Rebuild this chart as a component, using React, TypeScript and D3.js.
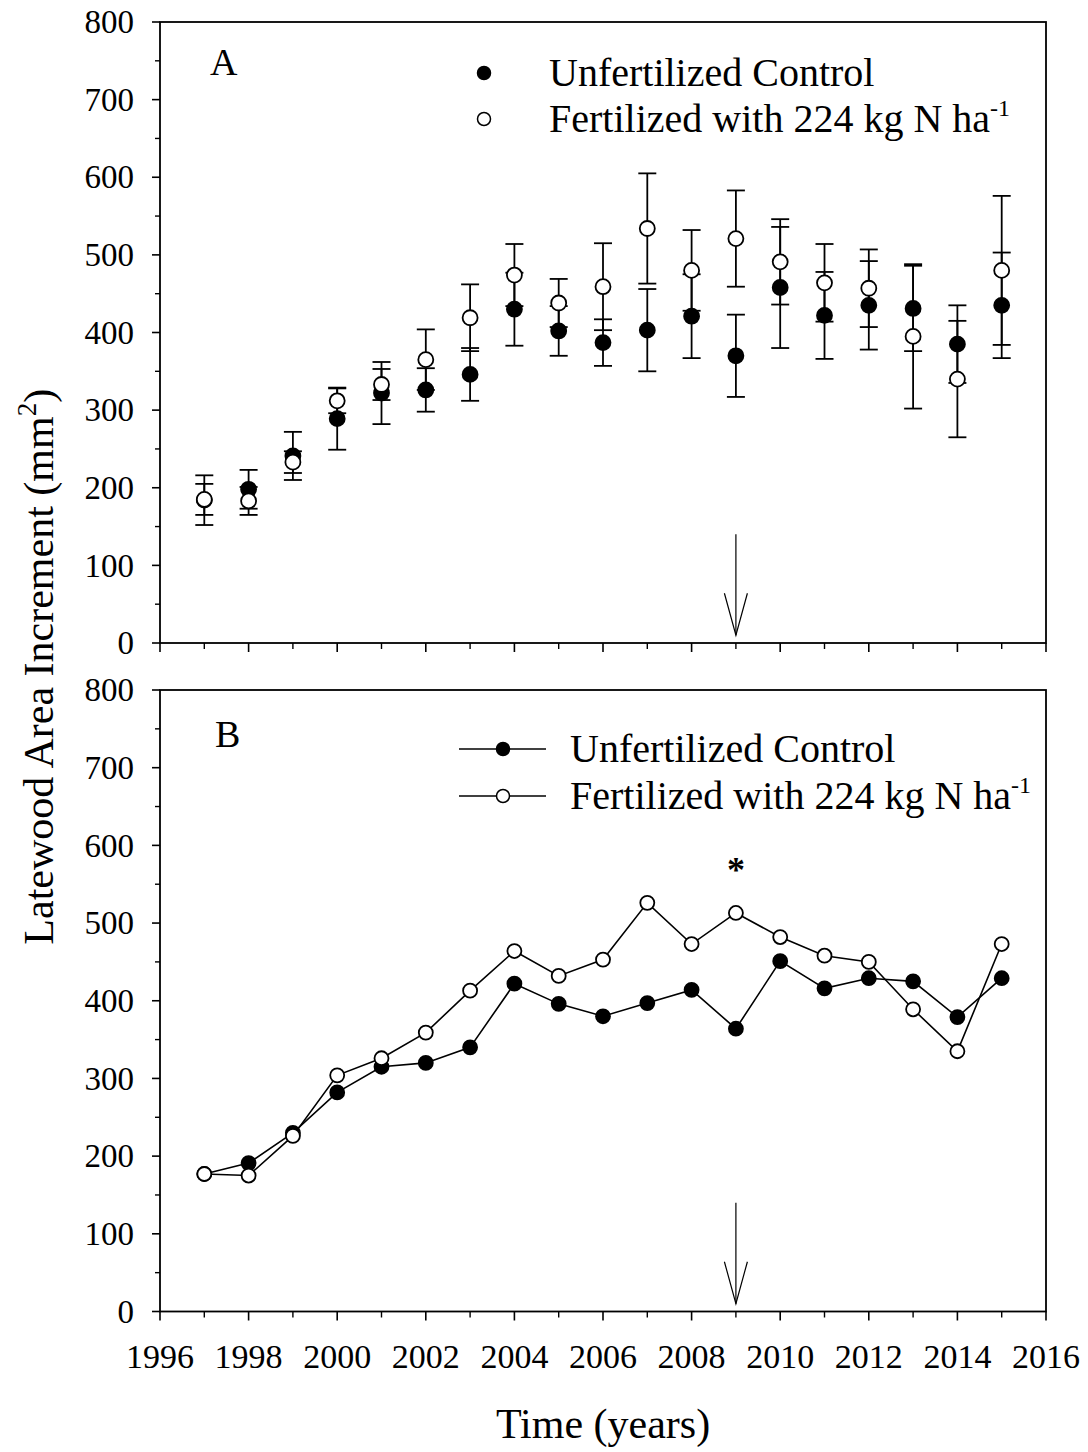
import React from "react";
import * as d3 from "d3";

const width = 1088;
const height = 1452;
const plotLeft = 160;
const plotRight = 1046;
const panelA = { top: 22, bottom: 643 };
const panelB = { top: 690, bottom: 1311.5 };
const font = "'Liberation Serif', 'Times New Roman', serif";

// data
const years = [1997, 1998, 1999, 2000, 2001, 2002, 2003, 2004, 2005, 2006, 2007, 2008, 2009, 2010, 2011, 2012, 2013, 2014, 2015];

// panel A: means with error bars
const controlMeanA = [184, 198, 241, 289, 322, 326, 346, 430, 402, 387, 403, 421, 370, 458, 422, 435, 431, 385, 435];
const controlErrA = [32, 25, 31, 40, 40, 28, 34, 47, 32, 30, 53, 54, 53, 78, 56, 57, 55, 50, 68];
const fertMeanA = [185, 183, 233, 312, 333, 365, 419, 474, 438, 459, 534, 480, 521, 491, 464, 457, 395, 340, 480];
const fertErrA = [20, 18, 14, 16, 20, 39, 43, 40, 31, 56, 71, 52, 62, 55, 50, 50, 93, 75, 96];

// panel B: lines
const controlB = [177, 191, 230, 282, 315, 320, 340, 422, 396, 380, 397, 414, 364, 451, 416, 429, 425, 379, 429];
const fertB = [177, 175, 226, 304, 326, 359, 413, 464, 432, 453, 526, 473, 513, 482, 458, 450, 389, 335, 473];

const yTicks = [0, 100, 200, 300, 400, 500, 600, 700, 800];
const yMinorTicks = [50, 150, 250, 350, 450, 550, 650, 750];
const xTicks = [1996, 1998, 2000, 2002, 2004, 2006, 2008, 2010, 2012, 2014, 2016];
const xMinorTicks = [1997, 1999, 2001, 2003, 2005, 2007, 2009, 2011, 2013, 2015];
const seriesNames = ["Unfertilized Control", "Fertilized with 224 kg N ha"];
const fertilizationYear = 2009;
const arrowFrom = 140;
const arrowTo = 10;
const asteriskValue = 553;

const xScale = d3.scaleLinear().domain([1996, 2016]).range([plotLeft, plotRight]);

function Axes({ y, top, bottom, showXLabels }) {
  return (
    <g>
      {/* frame */}
      <rect x={plotLeft} y={top} width={plotRight - plotLeft} height={bottom - top} fill="none" stroke="#000" strokeWidth={1.8} />
      {yTicks.map(t => (
        <g key={"y" + t}>
          <line x1={plotLeft - 8} x2={plotLeft} y1={y(t)} y2={y(t)} stroke="#000" strokeWidth={1.6} />
          <text x={134} y={y(t)} dy="0.34em" textAnchor="end" fontSize={33} fontFamily={font}>{t}</text>
        </g>
      ))}
      {yMinorTicks.map(t => (
        <line key={"ym" + t} x1={plotLeft - 5} x2={plotLeft} y1={y(t)} y2={y(t)} stroke="#000" strokeWidth={1.4} />
      ))}
      {xTicks.map(t => (
        <g key={"x" + t}>
          <line x1={xScale(t)} x2={xScale(t)} y1={bottom} y2={bottom + 9} stroke="#000" strokeWidth={1.6} />
          {showXLabels && (
            <text x={xScale(t)} y={1368} textAnchor="middle" fontSize={34} fontFamily={font}>{t}</text>
          )}
        </g>
      ))}
      {xMinorTicks.map(t => (
        <line key={"xm" + t} x1={xScale(t)} x2={xScale(t)} y1={bottom} y2={bottom + 6} stroke="#000" strokeWidth={1.4} />
      ))}
    </g>
  );
}

function Arrow({ y }) {
  const x = xScale(fertilizationYear);
  const y0 = y(arrowFrom);
  const y1 = y(arrowTo);
  return (
    <g stroke="#000" strokeWidth={1.2} fill="none">
      <line x1={x} x2={x} y1={y0} y2={y1} />
      <polyline points={`${x - 11.5},${y1 - 42} ${x},${y1} ${x + 11.5},${y1 - 42}`} />
    </g>
  );
}

function ErrorBars({ y, means, errs }) {
  return (
    <g stroke="#000" strokeWidth={1.8}>
      {years.map((yr, i) => {
        const x = xScale(yr);
        const hi = y(means[i] + errs[i]);
        const lo = y(means[i] - errs[i]);
        return (
          <g key={yr}>
            <line x1={x} x2={x} y1={hi} y2={lo} />
            <line x1={x - 9} x2={x + 9} y1={hi} y2={hi} />
            <line x1={x - 9} x2={x + 9} y1={lo} y2={lo} />
          </g>
        );
      })}
    </g>
  );
}

function Dots({ y, values, fill, r }) {
  return (
    <g>
      {years.map((yr, i) => (
        <circle key={yr} cx={xScale(yr)} cy={y(values[i])} r={r} fill={fill} stroke="#000" strokeWidth={1.8} />
      ))}
    </g>
  );
}

function LegendText({ x, y, i }) {
  return (
    <text x={x} y={y} fontSize={40} fontFamily={font}>
      {seriesNames[i]}
      {i === 1 && <tspan dy={-16} fontSize={24}>-1</tspan>}
    </text>
  );
}

export default function App() {
  const yA = d3.scaleLinear().domain([0, 800]).range([panelA.bottom, panelA.top]);
  const yB = d3.scaleLinear().domain([0, 800]).range([panelB.bottom, panelB.top]);
  const line = d3.line().x((d) => xScale(d[0])).y((d) => yB(d[1]));
  const controlPts = years.map((yr, i) => [yr, controlB[i]]);
  const fertPts = years.map((yr, i) => [yr, fertB[i]]);

  return (
    <svg width={width} height={height} style={{ position: "absolute", left: 0, top: 0, background: "#fff" }}>
      {/* Panel A */}
      <Axes y={yA} top={panelA.top} bottom={panelA.bottom} showXLabels={false} />
      <text x={210} y={75} fontSize={38} fontFamily={font}>A</text>
      <ErrorBars y={yA} means={controlMeanA} errs={controlErrA} />
      <Dots y={yA} values={controlMeanA} fill="#000" r={7.5} />
      <ErrorBars y={yA} means={fertMeanA} errs={fertErrA} />
      <Dots y={yA} values={fertMeanA} fill="#fff" r={7.5} />
      <Arrow y={yA} />
      <circle cx={484} cy={73} r={6.5} fill="#000" stroke="#000" strokeWidth={1.5} />
      <circle cx={484} cy={119} r={6.5} fill="#fff" stroke="#000" strokeWidth={1.5} />
      <LegendText x={549} y={86} i={0} />
      <LegendText x={549} y={132} i={1} />

      {/* Panel B */}
      <Axes y={yB} top={panelB.top} bottom={panelB.bottom} showXLabels={true} />
      <text x={215} y={747} fontSize={38} fontFamily={font}>B</text>
      <path d={line(controlPts)} fill="none" stroke="#000" strokeWidth={1.6} />
      <Dots y={yB} values={controlB} fill="#000" r={7} />
      <path d={line(fertPts)} fill="none" stroke="#000" strokeWidth={1.6} />
      <Dots y={yB} values={fertB} fill="#fff" r={7} />
      <Arrow y={yB} />
      <text x={xScale(fertilizationYear)} y={yB(asteriskValue)} textAnchor="middle" fontSize={36} fontWeight="bold" fontFamily={font}>*</text>
      <line x1={459} x2={546} y1={749} y2={749} stroke="#000" strokeWidth={1.6} />
      <circle cx={503} cy={749} r={6.5} fill="#000" stroke="#000" strokeWidth={1.5} />
      <line x1={459} x2={546} y1={796} y2={796} stroke="#000" strokeWidth={1.6} />
      <circle cx={503} cy={796} r={6.5} fill="#fff" stroke="#000" strokeWidth={1.5} />
      <LegendText x={570} y={762} i={0} />
      <LegendText x={570} y={809} i={1} />

      {/* axis titles */}
      <text x={603} y={1438} textAnchor="middle" fontSize={42} fontFamily={font}>Time (years)</text>
      <text transform={`translate(53, ${(panelA.top + panelB.bottom) / 2}) rotate(-90)`} textAnchor="middle" fontSize={42} fontFamily={font}>
        Latewood Area Increment (mm<tspan dy={-17} fontSize={27}>2</tspan><tspan dy={17}>)</tspan>
      </text>
    </svg>
  );
}
